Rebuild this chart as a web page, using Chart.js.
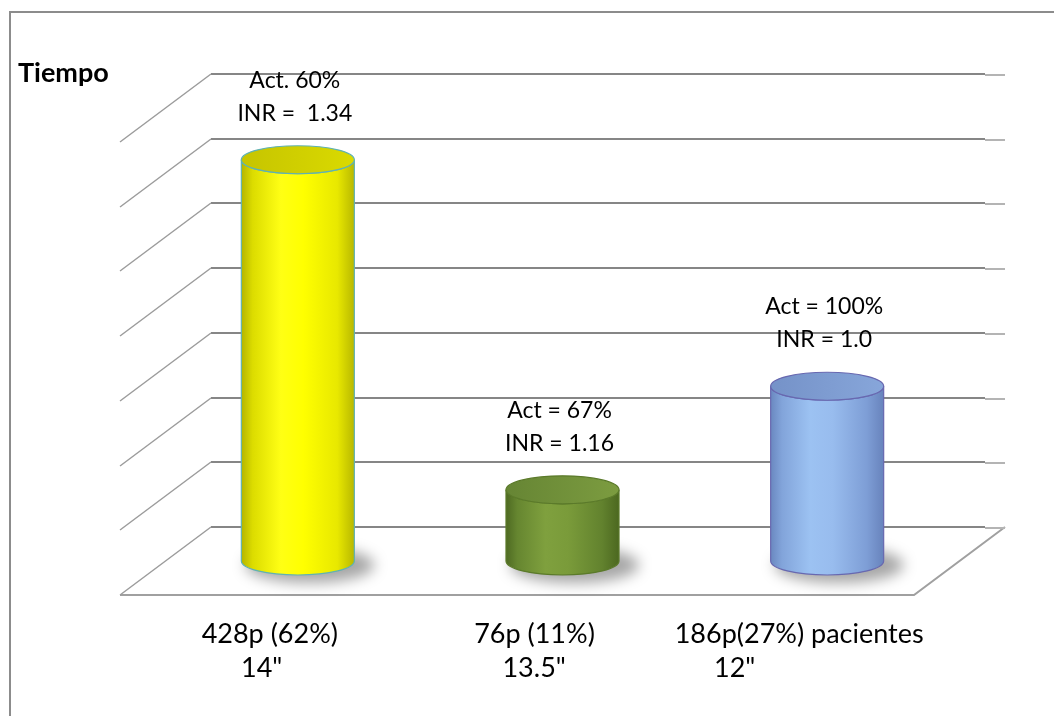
<!DOCTYPE html>
<html lang="es">
<head>
<meta charset="utf-8">
<title>Tiempo</title>
<script src="https://cdn.jsdelivr.net/npm/chart.js@4.4.1/dist/chart.umd.min.js"></script>
<style>
  html, body { margin: 0; padding: 0; background: #ffffff; }
  #grafico { display: block; }
</style>
</head>
<body>
<canvas id="grafico" width="1054" height="716"></canvas>
<script>
// Datos
const categorias = ['428p (62%)', '76p (11%)', '186p(27%) pacientes'];
const tiempos = ['14"', '13.5"', '12"'];
const porcentajes = [62, 11, 27];
const actividad = ['Act. 60%', 'Act = 67%', 'Act = 100%'];
const inr = ['INR =  1.34', 'INR = 1.16', 'INR = 1.0'];
const marcasEje = [0, 10, 20, 30, 40, 50, 60, 70];
const tituloEje = 'Tiempo';

// Colores de cada cilindro
const colores = [
    { cuerpo: ['#b4b400', '#dcdc00', '#ffff14', '#ffff00', '#e8e800', '#b8b800'], tapa: ['#c6c400', '#dada00'], borde: '#5fb2b4' },
    { cuerpo: ['#4e6a22', '#668630', '#7fa03e', '#7a9b3a', '#62822e', '#4c6820'], tapa: ['#668534', '#7c9c40'], borde: '#5b7a2a' },
    { cuerpo: ['#6a88c0', '#82a4da', '#9cc2f2', '#98bcee', '#7e9ed6', '#6883bc'], tapa: ['#7592c8', '#87a6da'], borde: '#6868b0' }
];

// Profundidad del piso (perspectiva)
const PROF_X = -91;
const PROF_Y = 68;
const RADIO_Y = 14;

function dibujarCilindro(ctx, cx, arriba, abajo, rx, color) {
    // sombra
    ctx.save();
    ctx.filter = 'blur(7px)';
    ctx.fillStyle = 'rgba(0,0,0,0.35)';
    ctx.beginPath();
    ctx.ellipse(cx + 12, abajo + 4, rx + 8, RADIO_Y + 4, 0, 0, Math.PI * 2);
    ctx.fill();
    ctx.restore();

    // cuerpo
    const grad = ctx.createLinearGradient(cx - rx, 0, cx + rx, 0);
    const paradas = [0, 0.1, 0.35, 0.55, 0.85, 1];
    color.cuerpo.forEach((c, i) => grad.addColorStop(paradas[i], c));
    ctx.beginPath();
    ctx.moveTo(cx - rx, arriba);
    ctx.lineTo(cx - rx, abajo);
    ctx.ellipse(cx, abajo, rx, RADIO_Y, 0, Math.PI, 0, true);
    ctx.lineTo(cx + rx, arriba);
    ctx.ellipse(cx, arriba, rx, RADIO_Y, 0, 0, Math.PI, false);
    ctx.closePath();
    ctx.fillStyle = grad;
    ctx.fill();
    ctx.strokeStyle = color.borde;
    ctx.lineWidth = 1.2;
    ctx.stroke();

    // tapa
    const gradTapa = ctx.createLinearGradient(cx - rx, arriba, cx + rx, arriba);
    gradTapa.addColorStop(0, color.tapa[0]);
    gradTapa.addColorStop(1, color.tapa[1]);
    ctx.beginPath();
    ctx.ellipse(cx, arriba, rx, RADIO_Y, 0, 0, Math.PI * 2);
    ctx.fillStyle = gradTapa;
    ctx.fill();
    ctx.stroke();
}

const fondo3d = {
    id: 'fondo3d',
    beforeDatasetsDraw(chart) {
        const ctx = chart.ctx;
        const { left, right } = chart.chartArea;
        const escalaY = chart.scales.y;
        const y0 = Math.round(escalaY.getPixelForValue(0));

        ctx.save();
        // marco exterior
        ctx.strokeStyle = '#8c8c8c';
        ctx.lineWidth = 2;
        ctx.beginPath();
        ctx.moveTo(10, 730);
        ctx.lineTo(10, 12);
        ctx.lineTo(1070, 12);
        ctx.stroke();

        // piso
        ctx.strokeStyle = '#a0a0a0';
        ctx.lineWidth = 2;
        ctx.beginPath();
        ctx.moveTo(left + PROF_X, y0 + PROF_Y);
        ctx.lineTo(right + PROF_X, y0 + PROF_Y);
        ctx.lineTo(right, y0);
        ctx.stroke();

        // lineas de division: pared del fondo y pared izquierda
        marcasEje.forEach(v => {
            const py = Math.round(escalaY.getPixelForValue(v));
            ctx.strokeStyle = '#868686';
            ctx.lineWidth = 2;
            ctx.beginPath();
            ctx.moveTo(left, py);
            ctx.lineTo(right - 20, py);
            ctx.stroke();
            ctx.strokeStyle = '#b4b4b4';
            ctx.beginPath();
            ctx.moveTo(right - 20, py + 1);
            ctx.lineTo(right, py + 1);
            ctx.stroke();
            ctx.strokeStyle = '#9c9c9c';
            ctx.lineWidth = 1.5;
            ctx.beginPath();
            ctx.moveTo(left, py);
            ctx.lineTo(left + PROF_X, py + PROF_Y);
            ctx.stroke();
        });
        ctx.restore();
    },
    afterDatasetsDraw(chart) {
        const ctx = chart.ctx;
        const meta = chart.getDatasetMeta(0);
        const escalaY = chart.scales.y;
        const y0 = escalaY.getPixelForValue(0);

        ctx.save();
        meta.data.forEach((barra, i) => {
            const cx = barra.x + PROF_X / 2;
            const arriba = barra.y + PROF_Y / 2;
            const abajo = barra.base + PROF_Y / 2;
            dibujarCilindro(ctx, cx, arriba, abajo, barra.width / 2, colores[i]);
        });

        ctx.fillStyle = '#000000';
        ctx.textBaseline = 'alphabetic';

        // etiquetas sobre los cilindros
        ctx.font = '23px Lato';
        ctx.textAlign = 'center';
        meta.data.forEach((barra, i) => {
            const cx = barra.x + PROF_X / 2 - 3;
            const tope = Math.max(barra.y + PROF_Y / 2 - RADIO_Y, escalaY.getPixelForValue(70) + 64);
            ctx.fillText(actividad[i], cx, tope - 66 + 8);
            ctx.fillText(inr[i], cx, tope - 33 + 8);
        });

        // etiquetas de categoria
        ctx.font = '27px Lato';
        const yFrente = y0 + PROF_Y;
        meta.data.forEach((barra, i) => {
            const cx = barra.x + PROF_X / 2 - 28;
            ctx.textAlign = 'center';
            ctx.fillText(categorias[i], cx, yFrente + 39 + 9);
            const izquierda = cx - ctx.measureText(categorias[i]).width / 2;
            ctx.fillText(tiempos[i], izquierda + 60, yFrente + 73 + 9);
        });

        // titulo del eje
        ctx.font = 'bold 27px Lato';
        ctx.textAlign = 'left';
        ctx.fillText(tituloEje, 18, escalaY.getPixelForValue(70) + 8);
        ctx.restore();
    }
};

new Chart(document.getElementById('grafico'), {
    type: 'bar',
    data: {
        labels: categorias,
        datasets: [{
            data: porcentajes,
            backgroundColor: 'rgba(0,0,0,0)',
            borderWidth: 0,
            barPercentage: 0.427,
            categoryPercentage: 1
        }]
    },
    options: {
        responsive: false,
        animation: false,
        devicePixelRatio: 1,
        events: [],
        layout: { padding: { left: 211, right: 49, top: 74, bottom: 189 } },
        plugins: { legend: { display: false }, tooltip: { enabled: false } },
        scales: {
            x: { display: false },
            y: { display: false, min: 0, max: 70, ticks: { stepSize: 10 } }
        }
    },
    plugins: [fondo3d]
});
</script>
</body>
</html>
